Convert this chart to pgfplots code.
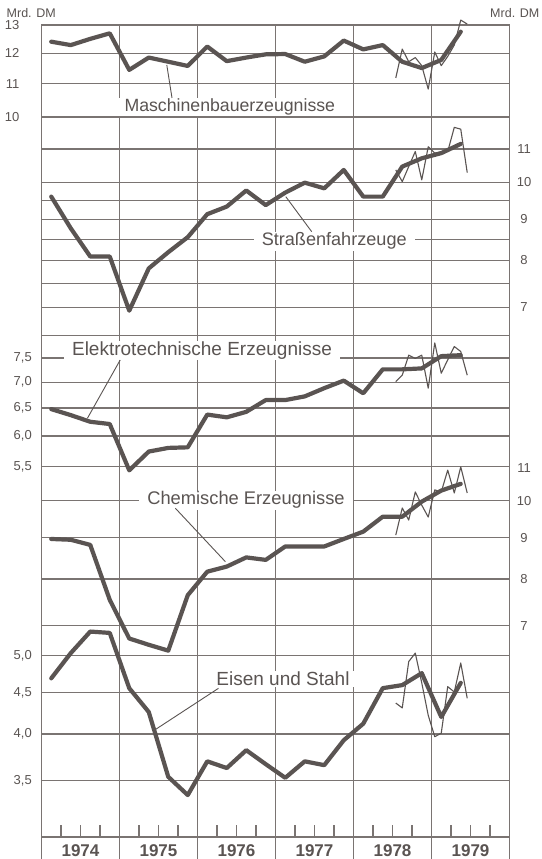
\documentclass[border=0pt]{standalone}
\usepackage{pgfplots}
\pgfplotsset{compat=1.18}
\usepackage{fontspec}
\setmainfont{Liberation Sans}
\definecolor{ink}{RGB}{90,84,82}
\definecolor{gridc}{RGB}{122,116,114}
\newcommand{\fs}[1]{\fontsize{#1}{#1}\selectfont}
\pgfplotsset{
  mypanel/.style={
    at={(41.5pt,22pt)}, anchor=south west, scale only axis,
    width=468pt, height=812pt,
    xmin=1974, xmax=1980, xtick=\empty,
    clip=false, yminorticks=false,
    axis line style={draw=none},
    ymajorgrids, grid style={gridc, line width=1.1pt},
    major tick length=0pt,
    yticklabel style={font=\fs{13}, text=ink, inner sep=0pt},
  },
  mylpos/.style={yticklabel style={anchor=east, xshift=#1}},
  myrpos/.style={yticklabel pos=right, yticklabel style={anchor=center, xshift=14.5pt}},
}
\tikzset{
  thk/.style={ink, line width=4.2pt, line join=round, line cap=round},
  thn/.style={ink, line width=1.1pt, line join=round},
  lbl/.style={fill=white, text=ink, inner xsep=8pt, inner ysep=1pt, anchor=base},
}
\begin{document}
\begin{tikzpicture}[x=1pt,y=1pt]
\fill[white] (0,0) rectangle (541,859);
% frame, quarter ticks and year lines
\begin{axis}[
  at={(41.5pt,22pt)}, anchor=south west, scale only axis,
  width=468pt, height=812pt,
  xmin=1974, xmax=1980, ymin=0, ymax=1, ytick=\empty,
  xtick={1974.25,1974.5,1974.75,1975.25,1975.5,1975.75,1976.25,1976.5,1976.75,1977.25,1977.5,1977.75,1978.25,1978.5,1978.75,1979.25,1979.5,1979.75},
  xticklabels={},
  tick align=inside, xtick pos=left,
  major tick length=12pt,
  major tick style={gridc, line width=1.1pt},
  axis line style={gridc, line width=1.3pt},
]
\pgfplotsinvokeforeach{1975,1976,1977,1978,1979}{
  \draw[gridc, line width=1.1pt] (axis cs:#1,0) -- (axis cs:#1,1);
}
\end{axis}
% year label strip
\begin{axis}[
  at={(41.5pt,0pt)}, anchor=south west, scale only axis,
  width=468pt, height=22pt,
  xmin=1974, xmax=1980, ymin=0, ymax=1, ytick=\empty,
  axis line style={draw=none},
  xtick={1974.5,1975.5,1976.5,1977.5,1978.5,1979.5},
  xticklabels={1974,1975,1976,1977,1978,1979},
  major tick length=0pt,
  xticklabel style={anchor=base, yshift=2.5pt, font=\fs{17}\bfseries, text=ink},
  extra x ticks={1974,1975,1976,1977,1978,1979,1980},
  extra x tick labels={},
  extra x tick style={grid=major},
  grid style={gridc, line width=1.3pt},
]
\end{axis}
% Maschinenbauerzeugnisse (left scale)
\begin{axis}[ymode=log, mypanel, ymin=1.2782, ymax=13.006,
  ytick={10,11,12,13}, yticklabels={10,11,12,13}, mylpos=-22pt]
\addplot[thn] table {
1978.542 11.18
1978.625 12.14
1978.708 11.71
1978.792 11.85
1978.875 11.58
1978.958 10.83
1979.042 12.04
1979.125 11.58
1979.208 11.89
1979.292 12.28
1979.375 13.19
1979.458 13.04
};
\addplot[thk] table {
1974.125 12.40
1974.375 12.28
1974.625 12.50
1974.875 12.70
1975.125 11.44
1975.375 11.85
1975.625 11.71
1975.875 11.57
1976.125 12.23
1976.375 11.73
1976.625 11.85
1976.875 11.96
1977.125 11.97
1977.375 11.71
1977.625 11.89
1977.875 12.44
1978.125 12.13
1978.375 12.28
1978.625 11.71
1978.875 11.50
1979.125 11.77
1979.375 12.76
};
\end{axis}
% Strassenfahrzeuge (right scale)
\begin{axis}[ymode=log, mypanel, ymin=1.5406, ymax=15.676,
  ytick={7,7.5,8,8.5,9,9.5,10,11}, yticklabels={7,,8,,9,,10,11}, myrpos]
\addplot[thn] table {
1978.542 10.36
1978.625 10.02
1978.708 10.46
1978.792 10.92
1978.875 10.07
1978.958 11.07
1979.042 10.87
1979.125 10.91
1979.208 10.92
1979.292 11.70
1979.375 11.64
1979.458 10.28
};
\addplot[thk] table {
1974.125 9.60
1974.375 8.77
1974.625 8.09
1974.875 8.09
1975.125 6.93
1975.375 7.82
1975.625 8.19
1975.875 8.55
1976.125 9.13
1976.375 9.33
1976.625 9.77
1976.875 9.37
1977.125 9.71
1977.375 9.99
1977.625 9.83
1977.875 10.36
1978.125 9.60
1978.375 9.60
1978.625 10.46
1978.875 10.71
1979.125 10.87
1979.375 11.16
};
\end{axis}
% Elektrotechnische Erzeugnisse (left scale)
\begin{axis}[ymode=log, mypanel, ymin=1.9085, ymax=19.42,
  ytick={5.5,6,6.5,7,7.5,8}, yticklabels={{5,5},{6,0},{6,5},{7,0},{7,5},{}}, mylpos=-9.5pt]
\addplot[thn] table {
1978.542 7.01
1978.625 7.14
1978.708 7.56
1978.792 7.49
1978.875 7.56
1978.958 6.88
1979.042 7.83
1979.125 7.18
1979.208 7.46
1979.292 7.75
1979.375 7.64
1979.458 7.14
};
\addplot[thk] table {
1974.125 6.48
1974.375 6.37
1974.625 6.25
1974.875 6.21
1975.125 5.44
1975.375 5.74
1975.625 5.80
1975.875 5.81
1976.125 6.38
1976.375 6.33
1976.625 6.43
1976.875 6.65
1977.125 6.65
1977.375 6.72
1977.625 6.88
1977.875 7.03
1978.125 6.78
1978.375 7.26
1978.625 7.26
1978.875 7.28
1979.125 7.54
1979.375 7.56
};
\end{axis}
% Chemische Erzeugnisse (right scale)
\begin{axis}[ymode=log, mypanel, ymin=3.8288, ymax=38.96,
  ytick={7,8,9,10}, yticklabels={7,8,9,10}, myrpos,
  extra y ticks={11}, extra y tick labels={11}, extra y tick style={grid=none}]
\addplot[thn] table {
1978.542 9.07
1978.625 9.80
1978.708 9.47
1978.792 10.26
1978.875 9.88
1978.958 9.55
1979.042 10.32
1979.125 10.26
1979.208 10.92
1979.292 10.23
1979.375 11.02
1979.458 10.23
};
\addplot[thk] table {
1974.125 8.97
1974.375 8.95
1974.625 8.82
1974.875 7.54
1975.125 6.75
1975.375 6.63
1975.625 6.52
1975.875 7.64
1976.125 8.17
1976.375 8.29
1976.625 8.51
1976.875 8.45
1977.125 8.78
1977.375 8.78
1977.625 8.78
1977.875 8.97
1978.125 9.16
1978.375 9.56
1978.625 9.56
1978.875 9.98
1979.125 10.30
1979.375 10.50
};
\end{axis}
% Eisen und Stahl (left scale)
\begin{axis}[ymode=log, mypanel, ymin=2.9807, ymax=30.33,
  ytick={3.5,4,4.5,5}, yticklabels={{3,5},{4,0},{4,5},{5,0}}, mylpos=-9.5pt]
\addplot[thn] table {
1978.542 4.37
1978.625 4.31
1978.708 4.92
1978.792 5.04
1978.875 4.63
1978.958 4.22
1979.042 3.97
1979.125 4.01
1979.208 4.58
1979.292 4.51
1979.375 4.90
1979.458 4.43
};
\addplot[thk] table {
1974.125 4.69
1974.375 5.04
1974.625 5.36
1974.875 5.34
1975.125 4.56
1975.375 4.26
1975.625 3.54
1975.875 3.36
1976.125 3.70
1976.375 3.63
1976.625 3.82
1976.875 3.67
1977.125 3.53
1977.375 3.70
1977.625 3.66
1977.875 3.93
1978.125 4.12
1978.375 4.56
1978.625 4.60
1978.875 4.76
1979.125 4.20
1979.375 4.63
};
\end{axis}
% series labels and leaders
\node[lbl, font=\fs{17.7}] at (229.8,747.5) {Maschinenbauerzeugnisse};
\node[lbl, font=\fs{18.1}] at (334.2,613) {Straßenfahrzeuge};
\node[lbl, font=\fs{19}] at (202,503.5) {Elektrotechnische Erzeugnisse};
\node[lbl, font=\fs{18.3}] at (246,354) {Chemische Erzeugnisse};
\node[lbl, font=\fs{19}] at (283,173) {Eisen und Stahl};
\draw[ink, line width=0.9pt] (166.8,794) -- (172,761);
\draw[ink, line width=0.9pt] (285.8,662.3) -- (311.7,627.3);
\draw[ink, line width=0.9pt] (120.2,499) -- (87.4,440.7);
\draw[ink, line width=0.9pt] (175.4,350.7) -- (225.4,297.3);
\draw[ink, line width=0.9pt] (218.5,170.7) -- (154.7,129);
\node[anchor=base west, font=\fs{12.5}, text=ink, inner sep=0pt] at (6.5,841) {Mrd. DM};
\node[anchor=base east, font=\fs{12.5}, text=ink, inner sep=0pt] at (539.5,841) {Mrd. DM};
\pgfresetboundingbox
\path[use as bounding box] (0,0) rectangle (541,859);
\end{tikzpicture}
\end{document}
